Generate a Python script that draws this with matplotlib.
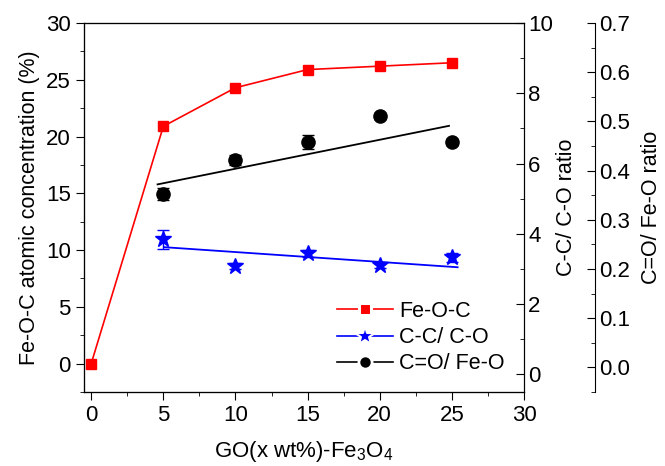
import numpy as np
import matplotlib
matplotlib.use("Agg")
import matplotlib.pyplot as plt
from matplotlib.lines import Line2D
from matplotlib.ticker import MultipleLocator, FormatStrFormatter

plt.rcParams['font.family'] = ['Liberation Sans', 'DejaVu Sans']
plt.rcParams['mathtext.fontset'] = 'custom'
plt.rcParams['mathtext.rm'] = 'Liberation Sans'
plt.rcParams['mathtext.it'] = 'Liberation Sans:italic'
plt.rcParams['mathtext.bf'] = 'Liberation Sans:bold'

# data
x_feoc = [0, 5, 10, 15, 20, 25]
feoc = [0.0, 20.9, 24.3, 25.9, 26.2, 26.5]

x_ratio = [5, 10, 15, 20, 25]
cc_co = [3.85, 3.08, 3.45, 3.10, 3.33]
cc_co_err = [0.27, 0.08, 0.10, 0.08, 0.12]
cc_fit_x = [5.1, 25.4]
cc_fit_y = [3.62, 3.05]

co_feo = [0.352, 0.421, 0.458, 0.511, 0.458]
co_feo_err = [0.012, 0.010, 0.015, 0.006, 0.006]
co_fit_x = [4.6, 24.8]
co_fit_y = [0.372, 0.491]

fig = plt.figure(figsize=(6.65, 4.66), dpi=100)
ax = fig.add_axes([0.1263, 0.1588, 0.6617, 0.7918])
ax2 = ax.twinx()
ax3 = ax.twinx()
ax3.spines['right'].set_position(('axes', 1.161))

fs = 16
ax.plot(x_feoc, feoc, color='red', lw=1.2, marker='s', ms=7, zorder=3)
ax2.plot(cc_fit_x, cc_fit_y, color='blue', lw=1.3)
ax2.errorbar(x_ratio, cc_co, yerr=cc_co_err, fmt='*', color='blue', ms=12,
             capsize=4, elinewidth=1, ls='none')
ax3.plot(co_fit_x, co_fit_y, color='black', lw=1.3)
ax3.errorbar(x_ratio, co_feo, yerr=co_feo_err, fmt='o', color='black', ms=9.5,
             capsize=4, elinewidth=1, ls='none')

ax.set_xlim(-0.5, 30)
ax.set_ylim(-2.5, 30)
ax2.set_ylim(-0.5, 10)
ax3.set_ylim(-0.05, 0.7)

ax.xaxis.set_major_locator(MultipleLocator(5))
ax.xaxis.set_minor_locator(MultipleLocator(2.5))
ax.yaxis.set_major_locator(MultipleLocator(5))
ax.yaxis.set_minor_locator(MultipleLocator(2.5))
ax2.yaxis.set_major_locator(MultipleLocator(2))
ax2.yaxis.set_minor_locator(MultipleLocator(1))
ax3.yaxis.set_major_locator(MultipleLocator(0.1))
ax3.yaxis.set_minor_locator(MultipleLocator(0.05))

ax.tick_params(axis='both', which='major', direction='out', length=6, labelsize=fs)
ax.tick_params(axis='both', which='minor', direction='out', length=3)
ax.tick_params(axis='x', top=False, which='both')
for a in (ax2, ax3):
    a.tick_params(axis='y', which='major', direction='in', length=6, labelsize=fs, pad=3)
    a.tick_params(axis='y', which='minor', direction='in', length=3)

ax3.yaxis.set_major_formatter(FormatStrFormatter('%.1f'))

ax.set_xlabel('GO(x wt%)-Fe$_3$O$_4$', fontsize=fs, labelpad=9)
ax.set_ylabel('Fe-O-C atomic concentration (%)', fontsize=15.5, labelpad=4)
ax2.set_ylabel('C-C/ C-O ratio', fontsize=15.5, labelpad=2)
ax3.set_ylabel('C=O/ Fe-O ratio', fontsize=15.5, labelpad=8)

handles = [Line2D([], [], color='red', marker='s', ms=8.4, mfc='red', mec='white', mew=2.2, lw=1.2),
           Line2D([], [], color='blue', marker='*', ms=15, mfc='blue', mec='white', mew=1.5, lw=1.2),
           Line2D([], [], color='black', marker='o', ms=9.5, mfc='black', mec='white', mew=2.0, lw=1.2)]
ax.legend(handles, ['Fe-O-C', 'C-C/ C-O', 'C=O/ Fe-O'], loc='upper left',
          bbox_to_anchor=(0.53, 0.30), frameon=False, fontsize=15.5,
          handlelength=2.6, handletextpad=0.3, labelspacing=0.25)

fig.savefig('out.png', dpi=100)
